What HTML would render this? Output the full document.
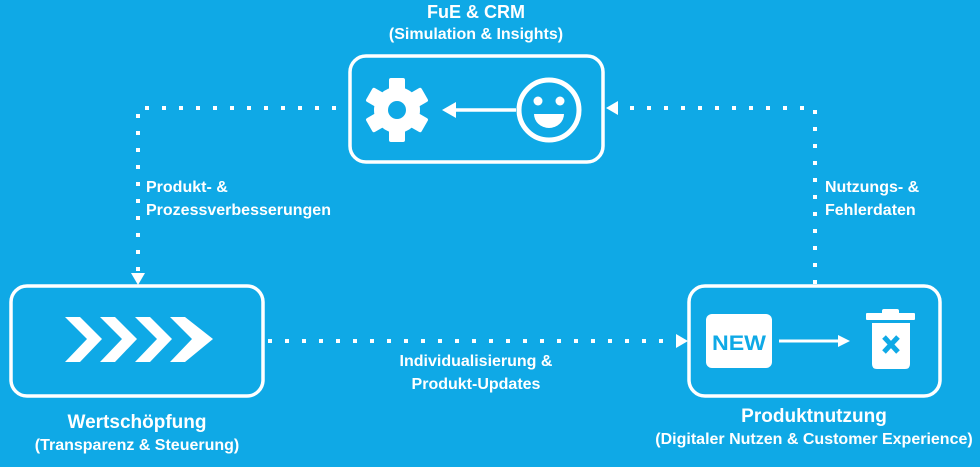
<!DOCTYPE html>
<html><head><meta charset="utf-8"><style>
html,body{margin:0;padding:0;background:#0fa9e6;}
body{width:980px;height:467px;overflow:hidden;position:relative;font-family:"Liberation Sans",sans-serif;color:#fff;font-weight:bold;}
.t{position:absolute;white-space:nowrap;font-size:16px;line-height:23px;}
.c{transform:translateX(-50%);text-align:center;}
</style></head><body>
<svg width="980" height="467" style="position:absolute;left:0;top:0">
<g fill="none" stroke="#fff" stroke-width="3.5">
<rect x="350" y="56" width="253" height="106" rx="16"/>
<rect x="11" y="286" width="252" height="110" rx="16"/>
<rect x="689" y="286" width="251" height="110" rx="16"/>
</g>
<g fill="none" stroke="#fff" stroke-width="4" stroke-dasharray="4 13">
<polyline points="336,108 138,108 138,272"/>
<polyline points="815,284 815,108 622,108"/>
<line x1="268" y1="341" x2="675" y2="341"/>
</g>
<g fill="#fff">
<polygon points="131,273 145,273 138,285"/>
<polygon points="606,108 618,101 618,115"/>
<polygon points="688,341 676,334 676,348"/>
</g>
<g transform="translate(397,110)" fill="#fff">
<g id="tooth"><rect x="-8" y="-32" width="16" height="14" rx="2"/></g>
<use href="#tooth" transform="rotate(60)"/><use href="#tooth" transform="rotate(120)"/><use href="#tooth" transform="rotate(180)"/><use href="#tooth" transform="rotate(240)"/><use href="#tooth" transform="rotate(300)"/>
<circle r="23"/>
<circle r="9" fill="#0fa9e6"/>
</g>
<line x1="516" y1="110" x2="452" y2="110" stroke="#fff" stroke-width="3.5"/>
<polygon points="442,110 456,102 456,118" fill="#fff"/>
<circle cx="549" cy="110" r="30" fill="none" stroke="#fff" stroke-width="5"/>
<circle cx="538" cy="101" r="4.5" fill="#fff"/><circle cx="560" cy="101" r="4.5" fill="#fff"/>
<path d="M534,114 L564,114 A15,14 0 0 1 534,114Z" fill="#fff"/>
<g fill="#fff">
<polygon points="65,317 80,317 102,339 80,362 65,362 87,339"/>
<polygon points="100,317 115,317 137,339 115,362 100,362 122,339"/>
<polygon points="135,317 150,317 172,339 150,362 135,362 157,339"/>
<polygon points="170,317 185,317 213,339 185,362 170,362 192,339"/>
</g>
<rect x="706" y="314" width="66" height="54" rx="6" fill="#fff"/>
<text x="739" y="350" text-anchor="middle" font-family="Liberation Sans" font-weight="bold" font-size="21" fill="#0fa9e6" textLength="54" lengthAdjust="spacingAndGlyphs">NEW</text>
<line x1="779" y1="341" x2="840" y2="341" stroke="#fff" stroke-width="3"/>
<polygon points="850,341 838,335 838,347" fill="#fff"/>
<rect x="866" y="313" width="49" height="7" rx="1" fill="#fff"/>
<rect x="882" y="309" width="17" height="6" rx="2" fill="#fff"/>
<path d="M872,323 L910,323 L910,364 Q910,369 905,369 L877,369 Q872,369 872,364Z" fill="#fff"/>
<g stroke="#0fa9e6" stroke-width="5"><line x1="884" y1="337" x2="898" y2="352"/><line x1="898" y1="337" x2="884" y2="352"/></g>
</svg>
<div class="t c" style="left:476px;top:1px;font-size:18px">FuE &amp; CRM</div>
<div class="t c" style="left:476px;top:23px">(Simulation &amp; Insights)</div>
<div class="t" style="left:146px;top:176px">Produkt- &amp;<br>Prozessverbesserungen</div>
<div class="t" style="left:825px;top:176px">Nutzungs- &amp;<br>Fehlerdaten</div>
<div class="t c" style="left:476px;top:350px">Individualisierung &amp;<br>Produkt-Updates</div>
<div class="t c" style="left:137px;top:411px;font-size:19px">Wertschöpfung</div>
<div class="t c" style="left:137px;top:434px">(Transparenz &amp; Steuerung)</div>
<div class="t c" style="left:814px;top:405px;font-size:19px">Produktnutzung</div>
<div class="t c" style="left:814px;top:428px">(Digitaler Nutzen &amp; Customer Experience)</div>
</body></html>
